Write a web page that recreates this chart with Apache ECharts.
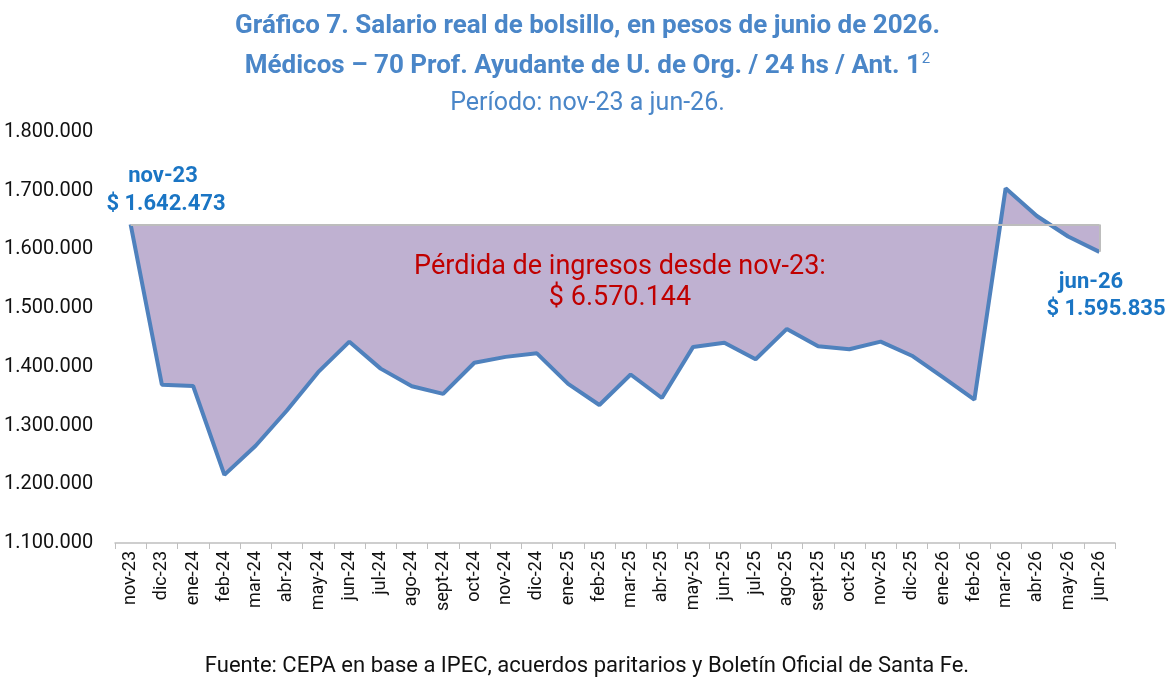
<!DOCTYPE html>
<html>
<head>
<meta charset="utf-8">
<script src="https://cdn.jsdelivr.net/npm/echarts@6/dist/echarts.min.js"></script>
<style>
  html, body { margin: 0; padding: 0; background: #fff; }
  #grafico { width: 1175px; height: 690px; }
</style>
</head>
<body>
<div id="grafico"></div>
<script>
var meses = ['nov-23', 'dic-23', 'ene-24', 'feb-24', 'mar-24', 'abr-24', 'may-24', 'jun-24',
    'jul-24', 'ago-24', 'sept-24', 'oct-24', 'nov-24', 'dic-24', 'ene-25', 'feb-25', 'mar-25',
    'abr-25', 'may-25', 'jun-25', 'jul-25', 'ago-25', 'sept-25', 'oct-25', 'nov-25', 'dic-25',
    'ene-26', 'feb-26', 'mar-26', 'abr-26', 'may-26', 'jun-26'];

var salario = [1642473, 1369700, 1367400, 1216000, 1265700, 1325700, 1391000, 1442900,
    1397000, 1367000, 1354000, 1407000, 1417000, 1423000, 1371000, 1335000, 1387000,
    1347000, 1434000, 1441000, 1413000, 1464600, 1435000, 1430000, 1443000, 1419000,
    1382000, 1344000, 1704000, 1657000, 1622000, 1595835];

var base_nov23 = 1642473;
var perdida_total = 6570144;
var ticks_y = [1100000, 1800000, 100000]; // min, max, intervalo

var azul_titulo = '#4a86c8';
var azul_nota = '#1a75c4';

function miles(v) {
    return String(v).replace(/\B(?=(\d{3})+(?!\d))/g, '.');
}

var myChart01 = echarts.init(document.getElementById('grafico'));

var ultimo = meses[meses.length - 1];

// texto sueltos (notas sobre el grafico)
function nota(x, y, texto, size, color, peso) {
    return {
        type: 'text', x: x, y: y, z: 10,
        style: {
            text: texto, fontSize: size, fontWeight: peso || 'bold', fill: color,
            align: 'center', verticalAlign: 'middle', fontFamily: 'Roboto'
        }
    };
}

option = {
    animation: false,
    textStyle: { fontFamily: 'Roboto' },
    title: {
        left: 'center',
        top: 1,
        text: '{b|Gráfico 7. Salario real de bolsillo, en pesos de junio de 2026.}\n' +
              '{b|Médicos – 70 Prof. Ayudante de U. de Org. / 24 hs / Ant. 1}{sup|2}\n' +
              '{n|Período: nov-23 a jun-26.}',
        textStyle: {
            rich: {
                b: { fontSize: 26, fontWeight: 'bold', color: azul_titulo, lineHeight: 40, fontFamily: 'Roboto' },
                sup: { fontSize: 15, fontWeight: 'normal', color: azul_titulo, lineHeight: 40, verticalAlign: 'top', padding: [6, 0, 0, 1], fontFamily: 'Roboto' },
                n: { fontSize: 25, fontWeight: 'normal', color: azul_titulo, lineHeight: 36, fontFamily: 'Roboto' }
            }
        }
    },
    grid: {
        left: 115,
        right: 60,
        top: 132,
        bottom: 147,
        containLabel: false
    },
    xAxis: {
        type: 'category',
        data: meses,
        boundaryGap: true,
        axisLine: { lineStyle: { color: '#bfbfbf', width: 1.5 } },
        axisTick: { show: true, length: 6, lineStyle: { color: '#bfbfbf' } },
        axisLabel: { rotate: 90, fontSize: 18, color: '#111', margin: 8, interval: 0 }
    },
    yAxis: {
        type: 'value',
        min: ticks_y[0],
        max: ticks_y[1],
        interval: ticks_y[2],
        axisLine: { show: false },
        axisTick: { show: false },
        splitLine: { show: false },
        axisLabel: {
            fontSize: 20,
            color: '#111',
            align: 'left',
            margin: 111,
            formatter: miles
        }
    },
    series: [
        {
            name: 'Salario real',
            type: 'line',
            data: salario,
            symbol: 'none',
            lineStyle: { color: '#4f81bd', width: 4 },
            areaStyle: { color: '#bfb1d1', opacity: 1, origin: base_nov23 },
            z: 3,
            markLine: {
                silent: true,
                symbol: 'none',
                label: { show: false },
                lineStyle: { color: '#bdbdbd', width: 2, type: 'solid' },
                data: [
                    [{ coord: [meses[0], base_nov23] }, { coord: [ultimo, base_nov23] }],
                    [{ coord: [ultimo, base_nov23] }, { coord: [ultimo, salario[salario.length - 1]] }]
                ]
            }
        }
    ],
    graphic: [
        nota(163, 176, meses[0], 22, azul_nota),
        nota(166, 204, '$ ' + miles(salario[0]), 22, azul_nota),
        nota(620, 267, 'Pérdida de ingresos desde nov-23:', 27, '#c00000', 'normal'),
        nota(620, 298, '$ ' + miles(perdida_total), 27, '#c00000', 'normal'),
        nota(1091, 282, ultimo, 22, azul_nota),
        nota(1106, 309, '$ ' + miles(salario[salario.length - 1]), 22, azul_nota),
        nota(587, 666, 'Fuente: CEPA en base a IPEC, acuerdos paritarios y Boletín Oficial de Santa Fe.', 22, '#111', 'normal')
    ]
};

myChart01.setOption(option, true);
</script>
</body>
</html>
